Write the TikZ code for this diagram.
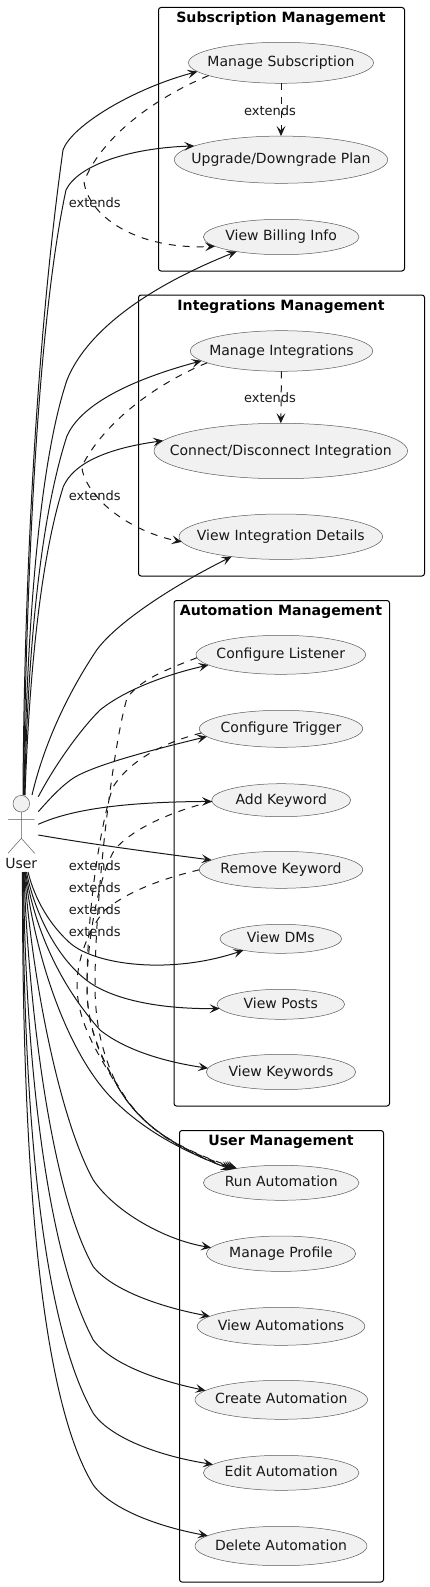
\documentclass[tikz,border=0pt]{standalone}
\usepackage{fontspec}
\setmainfont{DejaVu Sans}
\usetikzlibrary{shapes.geometric,arrows.meta}
\definecolor{ink}{HTML}{181818}
\definecolor{thin}{HTML}{5A5A5A}
\definecolor{ucfill}{HTML}{F1F1F1}
\newcommand{\fs}[1]{\fontsize{#1}{#1}\selectfont}
\newcommand{\ut}[1]{\smash{\makebox[0pt]{\raisebox{-3pt}{#1}}}}
\tikzset{
  uc/.style 2 args={ellipse,draw=thin,fill=ucfill,line width=0.375pt,inner sep=0pt,outer sep=0pt,
    minimum width={2*#1*0.75pt},minimum height={2*#2*0.75pt},font=\fs{10.5},text=ink},
  pkg/.style 2 args={rectangle,draw=black,line width=0.75pt,rounded corners=1.9pt,inner sep=0pt,outer sep=0pt,
    minimum width={#1*0.75pt},minimum height={#2*0.75pt}},
  pkgtitle/.style={anchor=base,font=\bfseries\fs{10.6},text=black,inner sep=0pt},
  lab/.style={font=\fs{9.75},text=ink,inner sep=0pt},
  rel/.style={draw=ink,line width=0.75pt,-{Stealth[length=7.5pt,width=6.6pt,inset=3.2pt]}},
  ext/.style={rel,dash pattern=on 5.25pt off 5.25pt},
  stick/.style={draw=thin,line width=0.375pt}
}
\begin{document}
\begin{tikzpicture}[x=0.75pt,y=-0.75pt]
\useasboundingbox (0,0) rectangle (429,1587);
% packages
\node[pkg={246}{263.5}] (pSub) at (281.5,139.25) {};
\node[pkg={286}{281}] (pInt) at (281.5,435.5) {};
\node[pkg={215.5}{505.5}] (pAut) at (281.75,853.25) {};
\node[pkg={204}{451.5}] (pUsr) at (281.5,1356.25) {};
\node[pkgtitle] (tSub) at (281,22.3) {Subscription Management};
\node[pkgtitle] (tInt) at (281,310.7) {Integrations Management};
\node[pkgtitle] (tAut) at (281,615.3) {Automation Management};
\node[pkgtitle] (tUsr) at (281,1145.3) {User Management};
% use cases
\node[uc={92.5}{20.5}] (ms) at (281,62.8) {\ut{Manage Subscription}};
\node[uc={106.7}{23.6}] (up) at (281,159.7) {\ut{Upgrade/Downgrade Plan}};
\node[uc={77.8}{17.7}] (vb) at (281.2,237) {\ut{View Billing Info}};
\node[uc={91.2}{20.3}] (mi) at (281.5,351) {\ut{Manage Integrations}};
\node[uc={126.8}{27.7}] (cd) at (280.8,451) {\ut{Connect/Disconnect Integration}};
\node[uc={101.8}{22.7}] (vid) at (280.8,536.7) {\ut{View Integration Details}};
\node[uc={84.8}{19.5}] (cl) at (280.8,654.8) {\ut{Configure Listener}};
\node[uc={81.7}{18.5}] (ct) at (281,728.8) {\ut{Configure Trigger}};
\node[uc={69.5}{16.5}] (ak) at (281.2,800.2) {\ut{Add Keyword}};
\node[uc={81.7}{18.5}] (rk) at (281,869.8) {\ut{Remove Keyword}};
\node[uc={60.8}{14.5}] (dm) at (280.8,938.8) {\ut{View DMs}};
\node[uc={63.8}{15}] (vp) at (280.8,1004.3) {\ut{View Posts}};
\node[uc={74.7}{17.7}] (vk) at (281,1072) {\ut{View Keywords}};
\node[uc={77.8}{17.5}] (ra) at (281.2,1182.8) {\ut{Run Automation}};
\node[uc={74.7}{17.7}] (mp) at (281,1253.7) {\ut{Manage Profile}};
\node[uc={83.8}{19}] (va) at (281,1326.3) {\ut{View Automations}};
\node[uc={86.3}{19.5}] (ca) at (281.3,1399.8) {\ut{Create Automation}};
\node[uc={77.8}{17.5}] (ea) at (281.2,1472.8) {\ut{Edit Automation}};
\node[uc={86}{19.7}] (da) at (281,1546) {\ut{Delete Automation}};
% actor
\node[circle,draw=thin,fill=ucfill,line width=0.375pt,inner sep=0pt,outer sep=0pt,minimum size=12.45pt] (head) at (21.3,803.7) {};
\coordinate (hip) at (21.3,838.3);
\coordinate (armL) at (8,819.3);
\coordinate (armR) at (34.7,819.3);
\coordinate (footL) at (8,853.3);
\coordinate (footR) at (34.7,853.3);
\draw[stick] (head.south) -- (hip) (armL) -- (armR) (footL) -- (hip) -- (footR);
\node[anchor=base,font=\fs{10.5},text=ink,inner sep=0pt] (user) at (21.3,868.5) {User};
% connector start points around the actor
\coordinate (t1) at (23,795); \coordinate (t2) at (23.5,795); \coordinate (t3) at (24,795);
\coordinate (t4) at (24.5,795); \coordinate (t5) at (25,795); \coordinate (t6) at (32,795);
\coordinate (r1) at (38.3,796.7); \coordinate (r2) at (38.3,811.7);
\coordinate (r3) at (38.3,824.3); \coordinate (r4) at (38.3,835);
\coordinate (b1) at (28,872); \coordinate (b2) at (26.5,872); \coordinate (b3) at (25.5,872);
\coordinate (b4) at (25,872); \coordinate (b5) at (24.5,872); \coordinate (b6) at (24,872);
\coordinate (b7) at (23.5,872); \coordinate (b8) at (23,872); \coordinate (b9) at (22.5,872);
% user edges, upward
\draw[rel] (t1) .. controls (24,600) and (35,350) .. (63,150) .. controls (72,125) and (135,88) .. (ms.186.2);
\draw[rel] (t2) .. controls (26,600) and (36,330) .. (66,190) .. controls (78,165) and (130,148) .. (up.171.9);
\draw[rel] (t3) .. controls (27,620) and (40,460) .. (67,380) .. controls (85,335) and (140,290) .. (vb.198.4);
\draw[rel] (t4) .. controls (28,650) and (40,520) .. (66.7,436.7) .. controls (80,405) and (130,380) .. (mi.187.6);
\draw[rel] (t5) .. controls (29,680) and (40,560) .. (63.3,486.7) .. controls (74,462) and (110,448) .. (cd.175);
\draw[rel] (t6) .. controls (45,740) and (70,690) .. (96.7,650) .. controls (115,625) and (165,590) .. (vid.202.4);
% user edges, rightward
\draw[rel] (r1) .. controls (55,765) and (80,730) .. (100,710) .. controls (125,690) and (165,675) .. (cl.188.4);
\draw[rel] (r2) .. controls (52,796) and (62,786) .. (72,779) .. controls (92,765) and (160,748) .. (ct.186.9);
\draw[rel] (r3) .. controls (70,810) and (120,802) .. (ak.181);
\draw[rel] (r4) .. controls (90,844) and (150,852) .. (rk.172.5);
% user edges, downward
\draw[rel] (b1) .. controls (35,900) and (50,925) .. (70,943) .. controls (95,965) and (170,975) .. (dm.197.1);
\draw[rel] (b2) .. controls (35,915) and (60,965) .. (95,986) .. controls (125,1003) and (170,1009) .. (vp.184.8);
\draw[rel] (b3) .. controls (35,930) and (60,985) .. (100,1030) .. controls (125,1050) and (165,1062) .. (vk.177.9);
\draw[rel] (b4) .. controls (35,960) and (70,1060) .. (116.7,1103) .. controls (145,1130) and (180,1150) .. (ra.165.2);
\draw[rel] (b5) .. controls (32,980) and (60,1120) .. (93.3,1180) .. controls (115,1212) and (165,1240) .. (mp.175.7);
\draw[rel] (b6) .. controls (28,1000) and (50,1190) .. (93.3,1266.7) .. controls (112,1290) and (160,1307) .. (va.172.6);
\draw[rel] (b7) .. controls (25,1050) and (45,1250) .. (93.3,1340) .. controls (112,1365) and (160,1381) .. (ca.173);
\draw[rel] (b8) .. controls (23,1100) and (40,1320) .. (93.3,1413.3) .. controls (112,1440) and (165,1457) .. (ea.173.9);
\draw[rel] (b9) .. controls (22,1150) and (38,1395) .. (93.3,1485) .. controls (112,1510) and (160,1527) .. (da.172.8);
% extends edges
\draw[ext] (ms.south) -- (up.north);
\draw[ext] (ms.190.3) .. controls (150,100) and (100,140) .. (84,181.7) .. controls (88,215) and (135,250) .. (vb.188.3);
\draw[ext] (mi.south) -- (cd.north);
\draw[ext] (mi.189.9) .. controls (160,382) and (105,420) .. (81.7,466.7) .. controls (85,495) and (125,530) .. (vid.183.3);
\draw[ext] (cl.182.4) .. controls (165,670) and (140,680) .. (127,698) .. controls (112,750) and (95,900) .. (95,985) .. controls (95,1030) and (105,1060) .. (118,1087) .. controls (140,1125) and (175,1148) .. (ra.162);
\draw[ext] (ct.183.6) .. controls (165,742) and (130,760) .. (113,787) .. controls (103,815) and (87,900) .. (87,988) .. controls (87,1030) and (103,1060) .. (118,1087) .. controls (140,1125) and (175,1148) .. (ra.163);
\draw[ext] (ak.181.7) .. controls (170,812) and (135,828) .. (117,847) .. controls (103,862) and (87,930) .. (87,988) .. controls (87,1025) and (100,1060) .. (119,1087) .. controls (140,1125) and (175,1148) .. (ra.164);
\draw[ext] (rk.180.6) .. controls (165,878) and (130,890) .. (105,910) .. controls (88,930) and (77,960) .. (77,985) .. controls (77,1020) and (95,1050) .. (118,1087) .. controls (140,1125) and (175,1148) .. (ra.165);
% extends labels
\node[lab] (l1) at (270,110.3) {extends};
\node[lab] (l2) at (94.7,202.3) {extends};
\node[lab] (l3) at (270,397.7) {extends};
\node[lab] (l4) at (94.7,495.7) {extends};
\node[lab] (l5) at (94.7,865.7) {extends};
\node[lab] (l6) at (94.7,887.7) {extends};
\node[lab] (l7) at (94.7,909.3) {extends};
\node[lab] (l8) at (94.7,931.3) {extends};
\end{tikzpicture}
\end{document}
